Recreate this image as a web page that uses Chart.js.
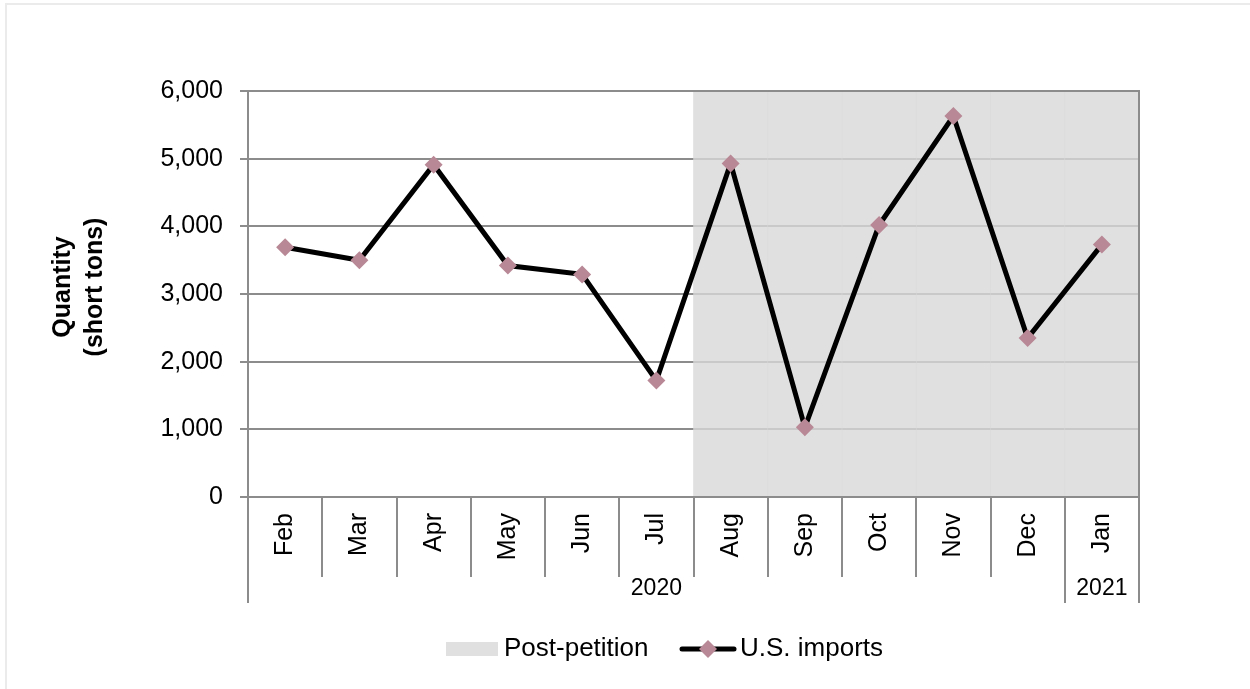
<!DOCTYPE html>
<html>
<head>
<meta charset="utf-8">
<script src="https://cdn.jsdelivr.net/npm/chart.js@4"></script>
<style>
  html, body { margin: 0; padding: 0; background: #fff; }
  canvas { display: block; }
</style>
</head>
<body>
<canvas id="chart" width="1250" height="689"></canvas>
<script>
// monthly data, Feb 2020 - Jan 2021
const months = ["Feb", "Mar", "Apr", "May", "Jun", "Jul", "Aug", "Sep", "Oct", "Nov", "Dec", "Jan"];
const usImports = [3690, 3500, 4910, 3420, 3290, 1720, 4930, 1030, 4020, 5630, 2350, 3730];
const postPetition = [0, 0, 0, 0, 0, 0, 1, 1, 1, 1, 1, 1];
const yearLabels = ["2020", "2021"];
const yearFirst = [0, 11];
const yearLast = [10, 11];
const yMin = 0, yMax = 6000, yStep = 1000;

const FONT = "'Liberation Sans', Arial, sans-serif";
const GRID = "#8c8c8c";
const SHADE = "#e0e0e0";
const MARKER = "#b88896";

// separators under the axis, year row, y title, legend, plot border
const extras = {
  id: "extras",
  afterDraw(chart) {
    const ctx = chart.ctx;
    const area = chart.chartArea;
    const x = chart.scales.x;
    const w = (area.right - area.left) / months.length;
    const edge = i => x.getPixelForValue(i) - w / 2;

    ctx.save();
    // outer frame (top / left)
    ctx.strokeStyle = "#ebebeb";
    ctx.lineWidth = 2;
    ctx.beginPath();
    ctx.moveTo(6, 689); ctx.lineTo(6, 4); ctx.lineTo(1250, 4);
    ctx.stroke();

    // plot border
    ctx.strokeStyle = GRID;
    ctx.lineWidth = 2;
    ctx.strokeRect(area.left, area.top, area.right - area.left, area.bottom - area.top);

    // month separators
    const yearEdges = new Set();
    yearFirst.forEach(i => yearEdges.add(i));
    yearLast.forEach(i => yearEdges.add(i + 1));
    for (let i = 0; i <= months.length; i++) {
      const px = Math.round(edge(i));
      ctx.beginPath();
      ctx.moveTo(px, area.bottom);
      ctx.lineTo(px, yearEdges.has(i) ? 603 : 577);
      ctx.stroke();
    }

    // year labels
    ctx.fillStyle = "#000";
    ctx.font = "23px " + FONT;
    ctx.textAlign = "center";
    ctx.textBaseline = "middle";
    yearLabels.forEach((lab, k) => {
      const cx = (edge(yearFirst[k]) + edge(yearLast[k] + 1)) / 2;
      ctx.fillText(lab, cx, 589);
    });

    // y axis title
    ctx.save();
    ctx.translate(79, 287);
    ctx.rotate(-Math.PI / 2);
    ctx.font = "bold 25px " + FONT;
    ctx.fillText("Quantity", 0, -16);
    ctx.fillText("(short tons)", 0, 16);
    ctx.restore();

    // legend
    const ly = 649;
    ctx.fillStyle = SHADE;
    ctx.fillRect(446, 642, 52, 14);
    ctx.fillStyle = "#000";
    ctx.font = "26px " + FONT;
    ctx.textAlign = "left";
    ctx.fillText("Post-petition", 504, ly);
    ctx.strokeStyle = "#000";
    ctx.lineWidth = 5;
    ctx.lineCap = "round";
    ctx.beginPath();
    ctx.moveTo(682, ly); ctx.lineTo(734, ly);
    ctx.stroke();
    ctx.fillStyle = MARKER;
    ctx.beginPath();
    ctx.moveTo(708, ly - 9); ctx.lineTo(717, ly); ctx.lineTo(708, ly + 9); ctx.lineTo(699, ly);
    ctx.closePath();
    ctx.fill();
    ctx.fillStyle = "#000";
    ctx.fillText("U.S. imports", 740, ly);
    ctx.restore();
  }
};

new Chart(document.getElementById("chart"), {
  data: {
    labels: months,
    datasets: [
      {
        type: "line",
        label: "U.S. imports",
        data: usImports,
        borderColor: "#000",
        borderWidth: 5,
        pointStyle: "rectRot",
        pointRadius: 9,
        pointBackgroundColor: MARKER,
        pointBorderWidth: 0,
        tension: 0,
        order: 0
      },
      {
        type: "bar",
        label: "Post-petition",
        data: postPetition.map(f => (f ? yMax : null)),
        backgroundColor: "rgba(216,216,216,0.8)",
        categoryPercentage: 1,
        barPercentage: 1,
        order: 1
      }
    ]
  },
  options: {
    responsive: false,
    animation: false,
    devicePixelRatio: 1,
    layout: { padding: { left: 0, top: 91, right: 111, bottom: 0 } },
    plugins: {
      legend: { display: false },
      tooltip: { enabled: false }
    },
    scales: {
      x: {
        grid: { display: false, drawTicks: false },
        border: { display: false },
        ticks: {
          autoSkip: false,
          minRotation: 90,
          maxRotation: 90,
          padding: 16,
          color: "#000",
          font: { family: FONT, size: 25 }
        },
        afterFit(scale) { scale.height = 192; }
      },
      y: {
        min: yMin,
        max: yMax,
        grid: { color: GRID, lineWidth: 2, tickLength: 8 },
        border: { display: false },
        ticks: {
          stepSize: yStep,
          padding: 17,
          color: "#000",
          font: { family: FONT, size: 25 },
          callback: v => v.toLocaleString("en-US")
        },
        afterFit(scale) { scale.width = 248; }
      }
    }
  },
  plugins: [extras]
});
</script>
</body>
</html>
